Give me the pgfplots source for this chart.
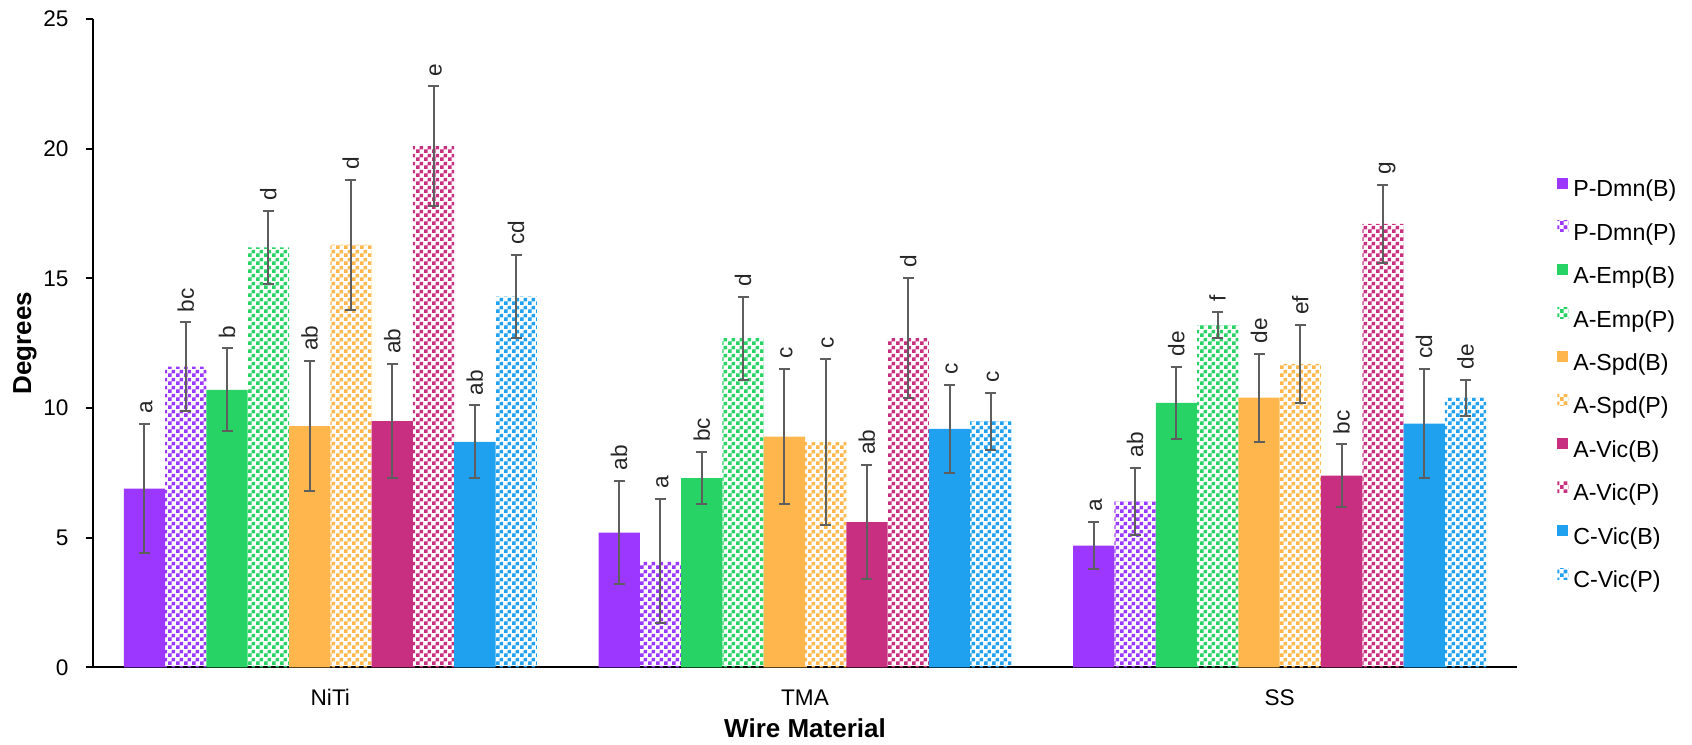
\documentclass[border=0pt]{standalone}
\usepackage{fontspec}
\setmainfont{Liberation Sans}
\usepackage{pgfplots}
\usepackage{pgfplotstable}
\pgfplotsset{compat=1.18}
\usetikzlibrary{patterns}

\definecolor{cPD}{HTML}{9B37FF}
\definecolor{cAE}{HTML}{28D366}
\definecolor{cAS}{HTML}{FFB74D}
\definecolor{cAV}{HTML}{C92F80}
\definecolor{cCV}{HTML}{1FA1F0}
\definecolor{errc}{HTML}{5E5E5E}

\pgfdeclarepatternformonly{checker}{\pgfqpoint{0pt}{0pt}}{\pgfqpoint{4pt}{4pt}}{\pgfqpoint{4pt}{4pt}}{%
  \pgfpathrectangle{\pgfqpoint{0pt}{0pt}}{\pgfqpoint{2pt}{2pt}}%
  \pgfpathrectangle{\pgfqpoint{2pt}{2pt}}{\pgfqpoint{2pt}{2pt}}%
  \pgfusepath{fill}}

\pgfplotstableread{
x m e lab
0 6.9 2.5 a
1 5.2 2.0 ab
2 4.7 0.9 a
}\tPDB
\pgfplotstableread{
x m e lab
0 11.6 1.7 bc
1 4.1 2.4 a
2 6.4 1.3 ab
}\tPDP
\pgfplotstableread{
x m e lab
0 10.7 1.6 b
1 7.3 1.0 bc
2 10.2 1.4 de
}\tAEB
\pgfplotstableread{
x m e lab
0 16.2 1.4 d
1 12.7 1.6 d
2 13.2 0.5 f
}\tAEP
\pgfplotstableread{
x m e lab
0 9.3 2.5 ab
1 8.9 2.6 c
2 10.4 1.7 de
}\tASB
\pgfplotstableread{
x m e lab
0 16.3 2.5 d
1 8.7 3.2 c
2 11.7 1.5 ef
}\tASP
\pgfplotstableread{
x m e lab
0 9.5 2.2 ab
1 5.6 2.2 ab
2 7.4 1.2 bc
}\tAVB
\pgfplotstableread{
x m e lab
0 20.1 2.3 e
1 12.7 2.3 d
2 17.1 1.5 g
}\tAVP
\pgfplotstableread{
x m e lab
0 8.7 1.4 ab
1 9.2 1.7 c
2 9.4 2.1 cd
}\tCVB
\pgfplotstableread{
x m e lab
0 14.3 1.6 cd
1 9.5 1.1 c
2 10.4 0.7 de
}\tCVP

\pgfplotsset{
  myerr/.style={error bars/.cd, y dir=both, y explicit,
    error bar style={line width=1pt, draw=errc},
    error mark options={rotate=90, line width=1pt, draw=errc, mark size=2.75pt}},
}

\newcommand{\solidbar}[4]{%
  \addplot[draw=none, fill=#3, bar shift=#2, myerr] table[x=x,y=m,y error=e]{#1};
  \addlegendentry{#4}
}
\newcommand{\patbar}[4]{%
  \addplot[draw=none, pattern=checker, pattern color=#3, bar shift=#2, myerr] table[x=x,y=m,y error=e]{#1};
  \addlegendentry{#4}
}
\newcommand{\labs}[2]{%
  \addplot[draw=none, fill=none, forget plot, bar shift=#2, nodes near coords,
    point meta=explicit symbolic] table[x=x, y expr=\thisrow{m}+\thisrow{e}, meta=lab]{#1};
}

\begin{document}
\begin{tikzpicture}
\begin{axis}[
  scale only axis,
  width=712pt, height=324.25pt,
  ybar, bar width=0.087,
  xmin=-0.5, xmax=2.5, ymin=0, ymax=25,
  clip=false,
  axis x line*=bottom, axis y line*=left,
  axis line style={-, line width=1pt, black},
  xtick={0,1,2}, xticklabels={NiTi,TMA,SS},
  major x tick style={draw=none},
  ytick={0,5,10,15,20,25},
  tick align=outside,
  major tick length=3.5pt,
  major y tick style={line width=1pt, black},
  /pgf/number format/assume math mode=true,
  tick label style={font=\fontsize{11.3}{13}\selectfont, text=black},
  yticklabel style={xshift=-5.2pt},
  xticklabel style={yshift=-4pt},
  xlabel={Wire Material},
  xlabel style={font=\bfseries\fontsize{13}{15}\selectfont, at={(axis description cs:0.5,0)}, anchor=center, yshift=-30.25pt},
  nodes near coords align={horizontal},
  every node near coord/.append style={rotate=90, anchor=west, inner xsep=5pt, inner ysep=0pt,
    text height=0.95em, text depth=0.15em, font=\fontsize{11.3}{13}\selectfont, text=black!85},
  legend image code/.code={\draw[#1, draw=none] (0pt,1.2pt) rectangle (5.5pt,6.7pt);},
  legend style={at={(1.028,0.4356)}, anchor=west, draw=none, fill=none, inner sep=0pt,
    font=\fontsize{11.6}{13}\selectfont, row sep=9.5pt, column sep=2.5pt,
    nodes={inner sep=0pt, text height=8.5pt, text depth=2.5pt}},
  legend cell align=left,
]
\solidbar{\tPDB}{-0.3915}{cPD}{P-Dmn(B)}
\patbar{\tPDP}{-0.3045}{cPD}{P-Dmn(P)}
\solidbar{\tAEB}{-0.2175}{cAE}{A-Emp(B)}
\patbar{\tAEP}{-0.1305}{cAE}{A-Emp(P)}
\solidbar{\tASB}{-0.0435}{cAS}{A-Spd(B)}
\patbar{\tASP}{0.0435}{cAS}{A-Spd(P)}
\solidbar{\tAVB}{0.1305}{cAV}{A-Vic(B)}
\patbar{\tAVP}{0.2175}{cAV}{A-Vic(P)}
\solidbar{\tCVB}{0.3045}{cCV}{C-Vic(B)}
\patbar{\tCVP}{0.3915}{cCV}{C-Vic(P)}
\labs{\tPDB}{-0.3915}
\labs{\tPDP}{-0.3045}
\labs{\tAEB}{-0.2175}
\labs{\tAEP}{-0.1305}
\labs{\tASB}{-0.0435}
\labs{\tASP}{0.0435}
\labs{\tAVB}{0.1305}
\labs{\tAVP}{0.2175}
\labs{\tCVB}{0.3045}
\labs{\tCVP}{0.3915}
\node[rotate=90, anchor=center, inner sep=0pt, font=\bfseries\fontsize{13}{15}\selectfont]
  at ([xshift=-34pt]rel axis cs:0,0.5) {Degrees};
\path (rel axis cs:-0.0653,-0.118) rectangle (rel axis cs:1.1229,1.0293);
\end{axis}
\end{tikzpicture}
\end{document}
